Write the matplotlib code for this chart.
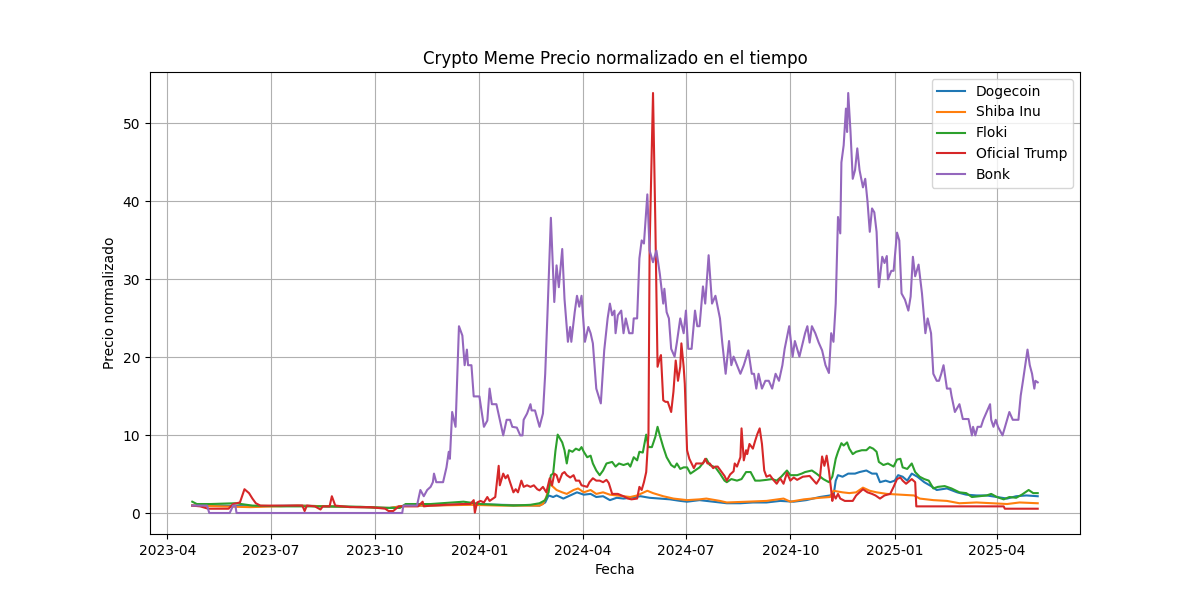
import matplotlib
matplotlib.use("Agg")
import matplotlib.pyplot as plt
import pandas as pd

# All x values are days since 2023-04-01
BASE_DATE = "2023-04-01"

doge_day = [22, 47, 73, 115, 144, 170, 196, 210, 232, 267, 293, 328, 333, 336, 340, 343, 349, 355, 361, 367,
            373, 378, 384, 390, 396, 402, 408, 417, 425, 434, 443, 452, 458, 469, 481, 493, 505, 516, 528, 540,
            552, 563, 575, 584, 587, 589, 591, 595, 600, 606, 610, 616, 621, 625, 628, 633, 637, 641, 644, 648,
            652, 656, 661, 667, 673, 678, 687, 696, 704, 713, 722, 731, 740, 748, 757, 767]
doge_val = [1.0, 1.0, 0.9, 1.0, 0.9, 0.8, 0.7, 1.0, 1.0, 1.2, 1.1, 1.0, 1.4, 2.3, 2.1, 2.3, 1.9, 2.3, 2.7, 2.4,
            2.5, 2.1, 2.2, 1.7, 2.0, 1.9, 2.0, 2.2, 2.0, 1.9, 1.8, 1.6, 1.5, 1.7, 1.5, 1.3, 1.3, 1.4, 1.4, 1.6,
            1.5, 1.7, 2.1, 2.3, 2.2, 4.2, 4.9, 4.7, 5.1, 5.1, 5.3, 5.5, 5.1, 5.1, 4.0, 4.2, 4.0, 4.2, 4.9, 4.7,
            4.2, 5.1, 4.7, 4.0, 3.5, 3.0, 3.2, 2.7, 2.4, 2.3, 2.3, 2.1, 1.9, 2.2, 2.3, 2.2]

shib_day = [22, 47, 73, 115, 144, 170, 196, 210, 232, 267, 293, 328, 331, 334, 337, 340, 343, 348, 352, 358,
            362, 367, 373, 378, 384, 390, 396, 402, 408, 414, 423, 428, 437, 446, 458, 469, 475, 487, 493, 511,
            528, 543, 549, 561, 575, 584, 587, 595, 601, 607, 613, 619, 625, 634, 646, 658, 663, 675, 687, 698,
            713, 727, 740, 751, 767]
shib_val = [1.0, 0.9, 0.8, 1.0, 0.9, 0.8, 0.7, 1.0, 1.0, 1.1, 1.0, 1.0, 1.2, 2.1, 3.8, 3.4, 3.0, 2.7, 2.5, 3.0,
            3.2, 2.7, 3.0, 2.5, 2.7, 2.4, 2.3, 2.2, 2.1, 2.3, 2.9, 2.6, 2.2, 1.9, 1.7, 1.8, 1.9, 1.6, 1.4, 1.5,
            1.6, 1.9, 1.5, 1.8, 2.0, 2.1, 2.9, 2.7, 2.6, 2.7, 3.3, 2.9, 2.7, 2.5, 2.4, 2.3, 1.9, 1.7, 1.6, 1.3,
            1.4, 1.3, 1.2, 1.4, 1.3]

floki_day = [22, 26, 38, 60, 75, 100, 135, 170, 192, 205, 210, 232, 261, 276, 305, 320, 328, 333, 336, 338,
             340, 342, 344, 346, 348, 350, 352, 354, 357, 360, 363, 365, 367, 370, 373, 375, 378, 381, 384, 387,
             392, 395, 398, 402, 406, 408, 411, 414, 416, 419, 422, 424, 427, 430, 432, 434, 437, 440, 444, 447,
             449, 452, 455, 458, 461, 465, 469, 475, 478, 483, 487, 491, 493, 497, 502, 506, 510, 514, 518, 522,
             528, 533, 537, 541, 546, 549, 555, 559, 562, 568, 572, 578, 583, 586, 589, 591, 594, 596, 599, 601,
             604, 607, 612, 616, 619, 622, 625, 627, 631, 635, 640, 643, 646, 648, 652, 656, 659, 663, 667, 671,
             675, 679, 685, 691, 698, 704, 709, 716, 722, 726, 731, 737, 742, 748, 753, 759, 763, 767]
floki_val = [1.5, 1.2, 1.2, 1.3, 1.0, 0.9, 0.9, 0.85, 0.7, 0.7, 1.2, 1.2, 1.5, 1.2, 1.0, 1.1, 1.3, 1.7, 2.7, 4.9,
             5.1, 8.0, 10.1, 9.6, 9.1, 8.1, 6.4, 8.1, 7.9, 8.3, 8.1, 8.5, 7.9, 7.2, 7.4, 6.4, 5.5, 4.9, 5.5, 6.4,
             6.6, 6.0, 6.4, 6.2, 6.4, 6.0, 7.2, 6.8, 7.9, 7.8, 10.1, 8.5, 8.5, 9.8, 11.1, 10.0, 8.5, 7.2, 6.2, 5.9,
             6.4, 5.7, 5.9, 5.9, 5.1, 5.5, 5.9, 7.0, 6.2, 5.9, 5.1, 4.2, 4.0, 4.4, 4.2, 4.4, 5.3, 5.3, 4.2, 4.2,
             4.3, 4.4, 4.2, 4.7, 5.5, 4.9, 4.9, 5.1, 5.3, 5.5, 5.1, 4.4, 4.0, 4.7, 7.0, 7.9, 9.0, 8.7, 9.1, 8.3,
             7.6, 7.9, 8.1, 8.1, 8.5, 8.3, 7.9, 6.6, 6.2, 6.4, 6.0, 6.9, 7.0, 5.9, 5.7, 6.4, 5.3, 4.7, 4.4, 4.2,
             3.2, 3.4, 3.5, 3.2, 2.7, 2.6, 2.1, 2.2, 2.3, 2.5, 2.1, 1.8, 2.1, 2.0, 2.4, 3.0, 2.6, 2.6]

trump_day = [22, 29, 36, 54, 58, 64, 68, 72, 75, 78, 82, 100, 119, 121, 123, 130, 135, 137, 143, 145,
             148, 161, 179, 192, 195, 199, 204, 221, 225, 226, 232, 245, 261, 267, 270, 271, 273, 276, 279, 282,
             284, 289, 292, 293, 296, 298, 300, 302, 305, 307, 309, 312, 314, 317, 320, 323, 326, 328, 331, 334,
             337, 339, 341, 343, 345, 348, 350, 352, 355, 358, 360, 363, 365, 370, 372, 375, 378, 381, 384, 387,
             389, 392, 397, 402, 406, 409, 414, 416, 418, 420, 422, 424, 425, 428, 430, 432, 434, 435, 437, 439,
             441, 444, 446, 448, 450, 452, 453, 455, 456, 458, 460, 462, 464, 466, 469, 472, 474, 476, 478, 481,
             483, 485, 488, 491, 493, 496, 499, 500, 502, 505, 506, 508, 510, 511, 513, 516, 518, 520, 522, 524,
             526, 528, 531, 534, 537, 540, 543, 546, 549, 552, 555, 560, 566, 569, 572, 575, 577, 579, 581, 583,
             585, 586, 587, 589, 591, 593, 597, 604, 607, 610, 613, 617, 621, 624, 628, 632, 637, 640, 643, 646,
             648, 651, 656, 659, 660, 737, 738, 767]
trump_val = [1.0, 0.9, 0.6, 0.6, 1.2, 1.4, 3.1, 2.6, 1.9, 1.3, 1.0, 1.0, 1.0, 0.3, 1.0, 0.9, 0.5, 0.9, 0.9, 2.2,
             1.0, 0.8, 0.8, 0.6, 0.3, 0.3, 0.9, 0.9, 1.5, 0.9, 1.0, 1.1, 1.2, 1.2, 1.7, 0.1, 1.4, 1.6, 1.4, 2.1,
             1.6, 2.1, 6.1, 3.6, 5.1, 4.5, 4.9, 4.0, 2.7, 3.1, 2.7, 4.2, 3.4, 3.6, 3.4, 3.6, 3.1, 2.95, 3.4, 2.7,
             4.5, 3.6, 5.1, 4.9, 4.0, 5.1, 5.3, 4.9, 4.6, 4.9, 4.2, 4.2, 3.6, 3.4, 4.0, 4.5, 4.2, 4.2, 4.0, 4.3,
             3.9, 2.5, 2.5, 2.2, 1.9, 1.8, 1.9, 3.4, 3.0, 4.0, 5.3, 10.2, 34.1, 53.9, 37.6, 18.8, 19.9, 20.3, 14.5, 14.3,
             14.3, 13.0, 15.6, 19.6, 17.0, 18.8, 21.8, 18.8, 16.6, 8.1, 7.0, 6.4, 5.8, 6.4, 6.4, 6.4, 7.0, 6.4, 6.4, 5.8,
             6.0, 6.0, 5.4, 4.8, 4.2, 5.0, 5.4, 6.4, 6.0, 7.2, 10.9, 6.8, 8.1, 7.6, 8.9, 8.3, 9.3, 10.2, 10.9, 8.9,
             5.5, 4.7, 4.9, 4.3, 3.8, 4.5, 3.8, 5.2, 4.2, 4.6, 4.3, 4.7, 4.8, 4.3, 3.8, 4.5, 7.3, 6.1, 7.4, 5.5,
             3.0, 1.6, 2.5, 1.9, 2.5, 1.9, 1.6, 1.6, 2.3, 2.7, 3.1, 2.7, 2.5, 2.3, 1.9, 2.3, 2.5, 3.4, 4.4, 4.6,
             4.2, 3.8, 4.4, 4.0, 0.9, 0.9, 0.6, 0.6]

bonk_day = [22, 35, 37, 55, 58, 60, 61, 207, 208, 220, 223, 226, 229, 232, 234, 235, 237, 243, 246, 248,
            249, 251, 254, 257, 260, 262, 264, 265, 268, 270, 275, 278, 279, 282, 284, 286, 290, 293, 296, 299,
            302, 304, 308, 311, 313, 314, 317, 320, 321, 324, 328, 331, 333, 335, 338, 341, 343, 345, 348, 350,
            353, 355, 356, 359, 361, 363, 365, 368, 371, 373, 375, 378, 382, 385, 388, 390, 392, 394, 395, 397,
            400, 402, 404, 407, 410, 411, 414, 416, 418, 420, 423, 425, 428, 431, 434, 437, 438, 440, 442, 444,
            447, 449, 452, 455, 457, 459, 462, 465, 467, 469, 472, 474, 477, 480, 483, 487, 489, 492, 495, 497,
            499, 502, 505, 508, 512, 515, 517, 519, 521, 524, 527, 530, 533, 536, 539, 542, 544, 548, 551, 553,
            557, 560, 562, 564, 566, 568, 571, 574, 577, 580, 583, 585, 587, 589, 591, 593, 594, 596, 598, 599,
            600, 602, 604, 606, 608, 610, 613, 615, 617, 619, 621, 623, 625, 627, 630, 632, 634, 635, 638, 640,
            643, 645, 647, 650, 653, 655, 657, 659, 662, 665, 668, 670, 673, 675, 678, 680, 682, 684, 687, 690,
            691, 694, 698, 701, 706, 709, 710, 712, 714, 717, 719, 722, 725, 726, 728, 730, 732, 736, 740, 742,
            745, 750, 752, 754, 758, 760, 762, 764, 765, 767]
bonk_val = [1.0, 1.0, 0.05, 0.05, 1.0, 1.0, 0.05, 0.05, 1.0, 1.0, 3.0, 2.2, 3.0, 3.4, 4.0, 5.1, 4.0, 4.0, 5.9, 7.9,
            7.0, 13.0, 11.1, 24.0, 22.8, 19.0, 21.0, 19.0, 19.0, 15.0, 15.0, 12.1, 11.1, 11.9, 16.0, 14.0, 14.0, 12.0, 10.0, 12.0,
            12.0, 11.1, 11.0, 10.0, 10.0, 12.0, 12.8, 14.0, 13.2, 13.2, 11.1, 12.8, 17.9, 25.6, 37.9, 27.1, 31.8, 29.0, 33.9, 27.5,
            22.0, 23.9, 22.0, 25.8, 27.9, 26.5, 27.9, 22.0, 23.9, 23.1, 21.8, 16.0, 14.1, 20.9, 25.0, 26.9, 25.4, 26.0, 23.1, 25.4,
            26.0, 23.1, 25.0, 23.1, 23.1, 25.0, 25.0, 32.7, 35.0, 34.6, 40.9, 33.7, 32.2, 33.7, 30.7, 26.9, 28.8, 25.8, 25.0, 21.1,
            20.1, 21.9, 25.0, 23.1, 26.0, 21.1, 21.1, 26.0, 24.0, 24.0, 29.1, 26.9, 33.1, 26.9, 27.9, 25.0, 21.9, 17.9, 22.1, 19.0,
            20.1, 19.0, 17.9, 19.0, 20.9, 17.9, 17.9, 16.0, 17.9, 16.0, 17.0, 17.0, 16.0, 17.9, 17.0, 19.0, 21.1, 24.0, 20.1, 22.1,
            20.1, 21.9, 23.1, 24.0, 21.9, 24.0, 23.1, 21.9, 20.9, 19.0, 18.0, 23.1, 22.0, 26.9, 38.0, 35.9, 45.0, 47.2, 51.9, 48.9,
            53.9, 49.0, 42.9, 44.0, 46.8, 44.0, 41.8, 42.9, 40.0, 36.1, 39.1, 38.6, 36.1, 29.0, 32.9, 32.1, 33.0, 30.0, 31.1, 31.1,
            36.0, 35.0, 28.2, 27.4, 26.0, 27.8, 32.9, 30.4, 31.9, 28.2, 23.1, 25.0, 23.1, 17.9, 17.0, 17.0, 17.9, 19.0, 16.0, 16.0,
            15.1, 13.0, 14.0, 12.1, 12.1, 10.0, 11.1, 10.0, 11.1, 11.1, 12.0, 13.0, 14.0, 12.0, 11.1, 12.0, 11.1, 10.0, 12.0, 13.0,
            12.0, 12.0, 15.1, 17.0, 21.0, 19.0, 17.9, 16.0, 17.0, 16.8]

series_names = ["Dogecoin", "Shiba Inu", "Floki", "Oficial Trump", "Bonk"]


def to_dates(days):
    return pd.Timestamp(BASE_DATE) + pd.to_timedelta(days, unit="D")


fig, ax = plt.subplots(figsize=(12, 6), dpi=100)
for name, d, v in zip(series_names,
                      [doge_day, shib_day, floki_day, trump_day, bonk_day],
                      [doge_val, shib_val, floki_val, trump_val, bonk_val]):
    ax.plot(to_dates(d), v, label=name)

ax.set_title("Crypto Meme Precio normalizado en el tiempo")
ax.set_xlabel("Fecha")
ax.set_ylabel("Precio normalizado")
ax.grid(True)
ax.legend(loc="upper right")
fig.savefig("out.png")
